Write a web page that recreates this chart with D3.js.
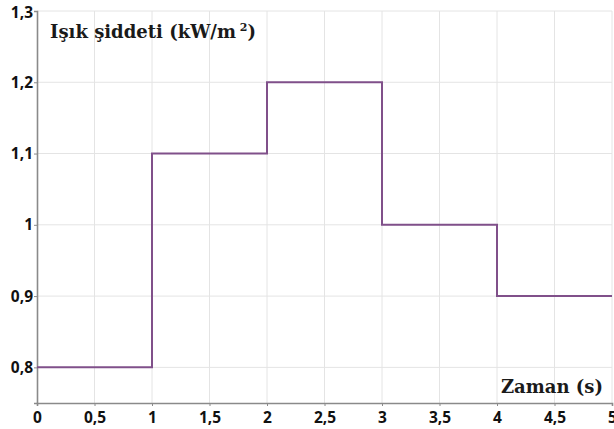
<!DOCTYPE html>
<html>
<head>
<meta charset="utf-8">
<script src="https://cdn.jsdelivr.net/npm/d3@7"></script>
<style>
  body { margin: 0; background: #fff; }
  .tick text { font-family: "Open Sans", sans-serif; font-weight: 700; font-size: 15.5px; fill: #111; }
  .axis-title { font-family: "DejaVu Serif", "Liberation Serif", serif; font-weight: 700; fill: #1a1a1a; }
</style>
</head>
<body>
<svg id="chart" width="614" height="429"></svg>
<script>
// step breakpoints (s) and light intensity (kW/m2) on each interval
const stepStart = [0, 1, 2, 3, 4];
const stepValue = [0.8, 1.1, 1.2, 1.0, 0.9];
const endTime = 5;
const xTicks = [0, 0.5, 1, 1.5, 2, 2.5, 3, 3.5, 4, 4.5, 5];
const yTicks = [0.8, 0.9, 1.0, 1.1, 1.2, 1.3];

const margin = {top: 11, right: 2, bottom: 26, left: 37},
    width = 614 - margin.left - margin.right,
    height = 429 - margin.top - margin.bottom;

const svg = d3.select("#chart")
  .append("g")
    .attr("transform", "translate(" + margin.left + "," + margin.top + ")");

const x = d3.scaleLinear().domain([0, endTime]).range([0, width]);
const y = d3.scaleLinear().domain([0.75, 1.3]).range([height, 0]);

const fmt = d => String(+d.toFixed(1)).replace(".", ",");

// grid
svg.append("g")
  .selectAll("line.vg")
  .data(xTicks.slice(1))
  .enter().append("line")
    .attr("x1", d => x(d)).attr("x2", d => x(d))
    .attr("y1", 0).attr("y2", height)
    .attr("stroke", "#e4e4e4").attr("stroke-width", 1);
svg.append("g")
  .selectAll("line.hg")
  .data(yTicks)
  .enter().append("line")
    .attr("x1", 0).attr("x2", width)
    .attr("y1", d => y(d)).attr("y2", d => y(d))
    .attr("stroke", "#e4e4e4").attr("stroke-width", 1);

// axes
const xAxis = svg.append("g")
  .attr("transform", "translate(0," + height + ")")
  .call(d3.axisBottom(x).tickValues(xTicks).tickFormat(fmt).tickSize(3).tickPadding(3));
const yAxis = svg.append("g")
  .call(d3.axisLeft(y).tickValues(yTicks).tickFormat(fmt).tickSize(3).tickPadding(1));
for (const a of [xAxis, yAxis]) {
  a.select(".domain").attr("stroke", "#8a8a8a").attr("stroke-width", 1.6);
  a.selectAll(".tick line").attr("stroke", "#8a8a8a");
}
xAxis.selectAll(".tick text").attr("dy", "0.9em");
yAxis.select(".tick:last-of-type text").attr("dy", "0.45em");

// step line
const pts = [];
stepStart.forEach((t, i) => {
  pts.push([t, stepValue[i]]);
  pts.push([i + 1 < stepStart.length ? stepStart[i + 1] : endTime, stepValue[i]]);
});
svg.append("path")
  .datum(pts)
  .attr("fill", "none")
  .attr("stroke", "#80508a")
  .attr("stroke-width", 2)
  .attr("d", d3.line().x(d => x(d[0])).y(d => y(d[1])));

// titles
const yt = svg.append("text")
  .attr("class", "axis-title")
  .attr("x", 13).attr("y", 27)
  .style("font-size", "18px");
yt.append("tspan").text("Işık şiddeti (kW/m");
yt.append("tspan").attr("dy", -7).style("font-size", "11px").text(" 2");
yt.append("tspan").attr("dy", 7).text(")");

svg.append("text")
  .attr("class", "axis-title")
  .attr("x", width - 9).attr("y", height - 10)
  .attr("text-anchor", "end")
  .style("font-size", "18px")
  .text("Zaman (s)");
</script>
</body>
</html>
